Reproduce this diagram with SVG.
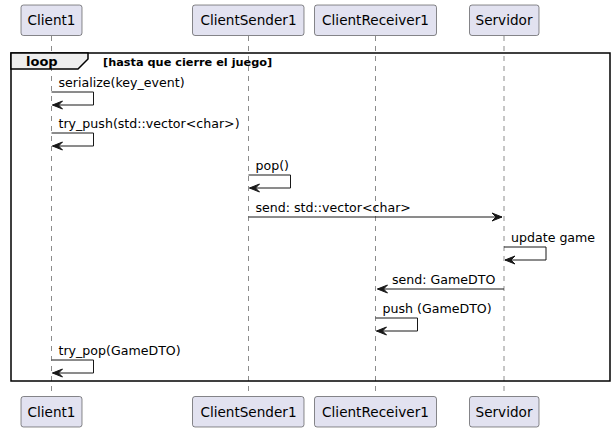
<svg xmlns="http://www.w3.org/2000/svg" width="614" height="432" viewBox="0 0 614 432">
<style>
.part rect{fill:#E2E2F0;stroke:#181818;stroke-width:0.5}
.part text{font-family:"DejaVu Sans",sans-serif;font-size:13.6px;fill:#000}
.life{stroke:#181818;stroke-width:0.5;stroke-dasharray:5,5}
.msg line,.msg polyline{stroke:#181818;stroke-width:1;fill:none}
.msg polygon{fill:#181818;stroke:#181818;stroke-width:1}
.msg text{font-family:"DejaVu Sans",sans-serif;font-size:12.6px;fill:#000}
</style>
<rect width="614" height="432" fill="#fff"/>
<g id="lifelines">
<line class="life" x1="51.5" y1="36" x2="51.5" y2="396"/>
<line class="life" x1="248.5" y1="36" x2="248.5" y2="396"/>
<line class="life" x1="375.5" y1="36" x2="375.5" y2="396"/>
<line class="life" x1="504" y1="36" x2="504" y2="396"/>
</g>
<g id="Client1" class="part">
<rect x="21" y="5" width="61" height="30.5" rx="2.5"/>
<text x="51.5" y="25" text-anchor="middle">Client1</text>
<rect x="21" y="396.5" width="61" height="30.5" rx="2.5"/>
<text x="51.5" y="416.5" text-anchor="middle">Client1</text>
</g>
<g id="ClientSender1" class="part">
<rect x="192.5" y="5" width="111.5" height="30.5" rx="2.5"/>
<text x="248.5" y="25" text-anchor="middle">ClientSender1</text>
<rect x="192.5" y="396.5" width="111.5" height="30.5" rx="2.5"/>
<text x="248.5" y="416.5" text-anchor="middle">ClientSender1</text>
</g>
<g id="ClientReceiver1" class="part">
<rect x="314.5" y="5" width="122" height="30.5" rx="2.5"/>
<text x="375.5" y="25" text-anchor="middle">ClientReceiver1</text>
<rect x="314.5" y="396.5" width="122" height="30.5" rx="2.5"/>
<text x="375.5" y="416.5" text-anchor="middle">ClientReceiver1</text>
</g>
<g id="Servidor" class="part">
<rect x="469.5" y="5" width="69.5" height="30.5" rx="2.5"/>
<text x="504" y="25" text-anchor="middle">Servidor</text>
<rect x="469.5" y="396.5" width="69.5" height="30.5" rx="2.5"/>
<text x="504" y="416.5" text-anchor="middle">Servidor</text>
</g>
<g id="loop">
<rect x="11" y="53" width="599" height="328" fill="none" stroke="#000" stroke-width="1.5"/>
<polygon points="11,53 88,53 88,59 78,69 11,69" fill="#EEEEEE" stroke="#000" stroke-width="1.5"/>
<text x="26" y="66" font-family="DejaVu Sans,sans-serif" font-size="13" font-weight="bold">loop</text>
<text x="103" y="66" font-family="DejaVu Sans,sans-serif" font-size="11.3" font-weight="bold">[hasta que cierre el juego]</text>
</g>
<g id="connectors" class="msg">
<polyline points="51.5,92 93.5,92 93.5,105 52.5,105"/>
<polygon points="62.5,101 52.5,105 62.5,109 58.5,105"/>
<text x="58.5" y="87">serialize(key_event)</text>

<polyline points="51.5,133 93.5,133 93.5,146 52.5,146"/>
<polygon points="62.5,142 52.5,146 62.5,150 58.5,146"/>
<text x="58.5" y="128">try_push(std::vector&lt;char&gt;)</text>

<polyline points="248.5,175 290.5,175 290.5,188 249.5,188"/>
<polygon points="259.5,184 249.5,188 259.5,192 255.5,188"/>
<text x="255.5" y="170">pop()</text>

<line x1="248.5" y1="217" x2="502" y2="217"/>
<polygon points="492,213 502,217 492,221 496,217"/>
<text x="255.5" y="212">send: std::vector&lt;char&gt;</text>

<polyline points="504,247 546,247 546,260 505,260"/>
<polygon points="515,256 505,260 515,264 511,260"/>
<text x="511" y="242">update game</text>

<line x1="504" y1="289" x2="377.5" y2="289"/>
<polygon points="387.5,285 377.5,289 387.5,293 383.5,289"/>
<text x="392" y="284">send: GameDTO</text>

<polyline points="375.5,318 417.5,318 417.5,331 376.5,331"/>
<polygon points="386.5,327 376.5,331 386.5,335 382.5,331"/>
<text x="382.5" y="313">push (GameDTO)</text>

<polyline points="51.5,360 93.5,360 93.5,373 52.5,373"/>
<polygon points="62.5,369 52.5,373 62.5,377 58.5,373"/>
<text x="58.5" y="355">try_pop(GameDTO)</text>
</g>
</svg>
